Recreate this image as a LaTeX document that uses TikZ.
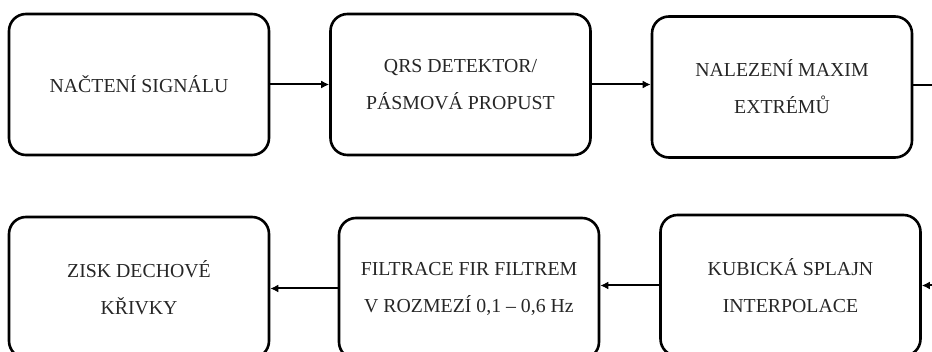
\documentclass[tikz,border=0pt]{standalone}
\usepackage{fontspec}
\setmainfont{Liberation Serif}
\usetikzlibrary{arrows.meta}
\tikzset{
  blok/.style={draw=black, line width=2.6pt, rounded corners=17pt,
    minimum width=260pt, minimum height=141pt, inner sep=0pt,
    align=center, font=\fontsize{19.8pt}{37pt}\selectfont, text=black!85},
  sipka/.style={line width=2pt, -{Latex[length=8pt,width=8pt]}},
  cara/.style={line width=2pt}
}
\begin{document}
\begin{tikzpicture}[x=1pt,y=-1pt]
\useasboundingbox (0,0) rectangle (932,352);
\clip (0,0) rectangle (932,352);
\node[blok] (b1) at (139,84.5) {NAČTENÍ SIGNÁLU};
\node[blok] (b2) at (460.5,84.5) {QRS DETEKTOR/\\PÁSMOVÁ PROPUST};
\node[blok] (b3) at (782,87) {NALEZENÍ MAXIM\\EXTRÉMŮ};
\node[blok] (b4) at (139,287.5) {ZISK DECHOVÉ\\KŘIVKY};
\node[blok] (b5) at (469,288.5) {FILTRACE FIR FILTREM\\V ROZMEZÍ 0,1 – 0,6 Hz};
\node[blok] (b6) at (790.5,285.5) {KUBICKÁ SPLAJN\\INTERPOLACE};
\coordinate (out3) at (945,85);
\coordinate (in6) at (945,285.5);
\draw[sipka] (b1.east) -- (b2.west);
\draw[sipka] (b2.east) -- (b2.east -| b3.west);
\draw[cara] (b3.east |- out3) -- (out3);
\draw[sipka] (in6) -- (b6.east);
\draw[sipka] (b6.west) -- (b6.west -| b5.east);
\draw[sipka] (b5.west) -- (b5.west -| b4.east);
\end{tikzpicture}
\end{document}
